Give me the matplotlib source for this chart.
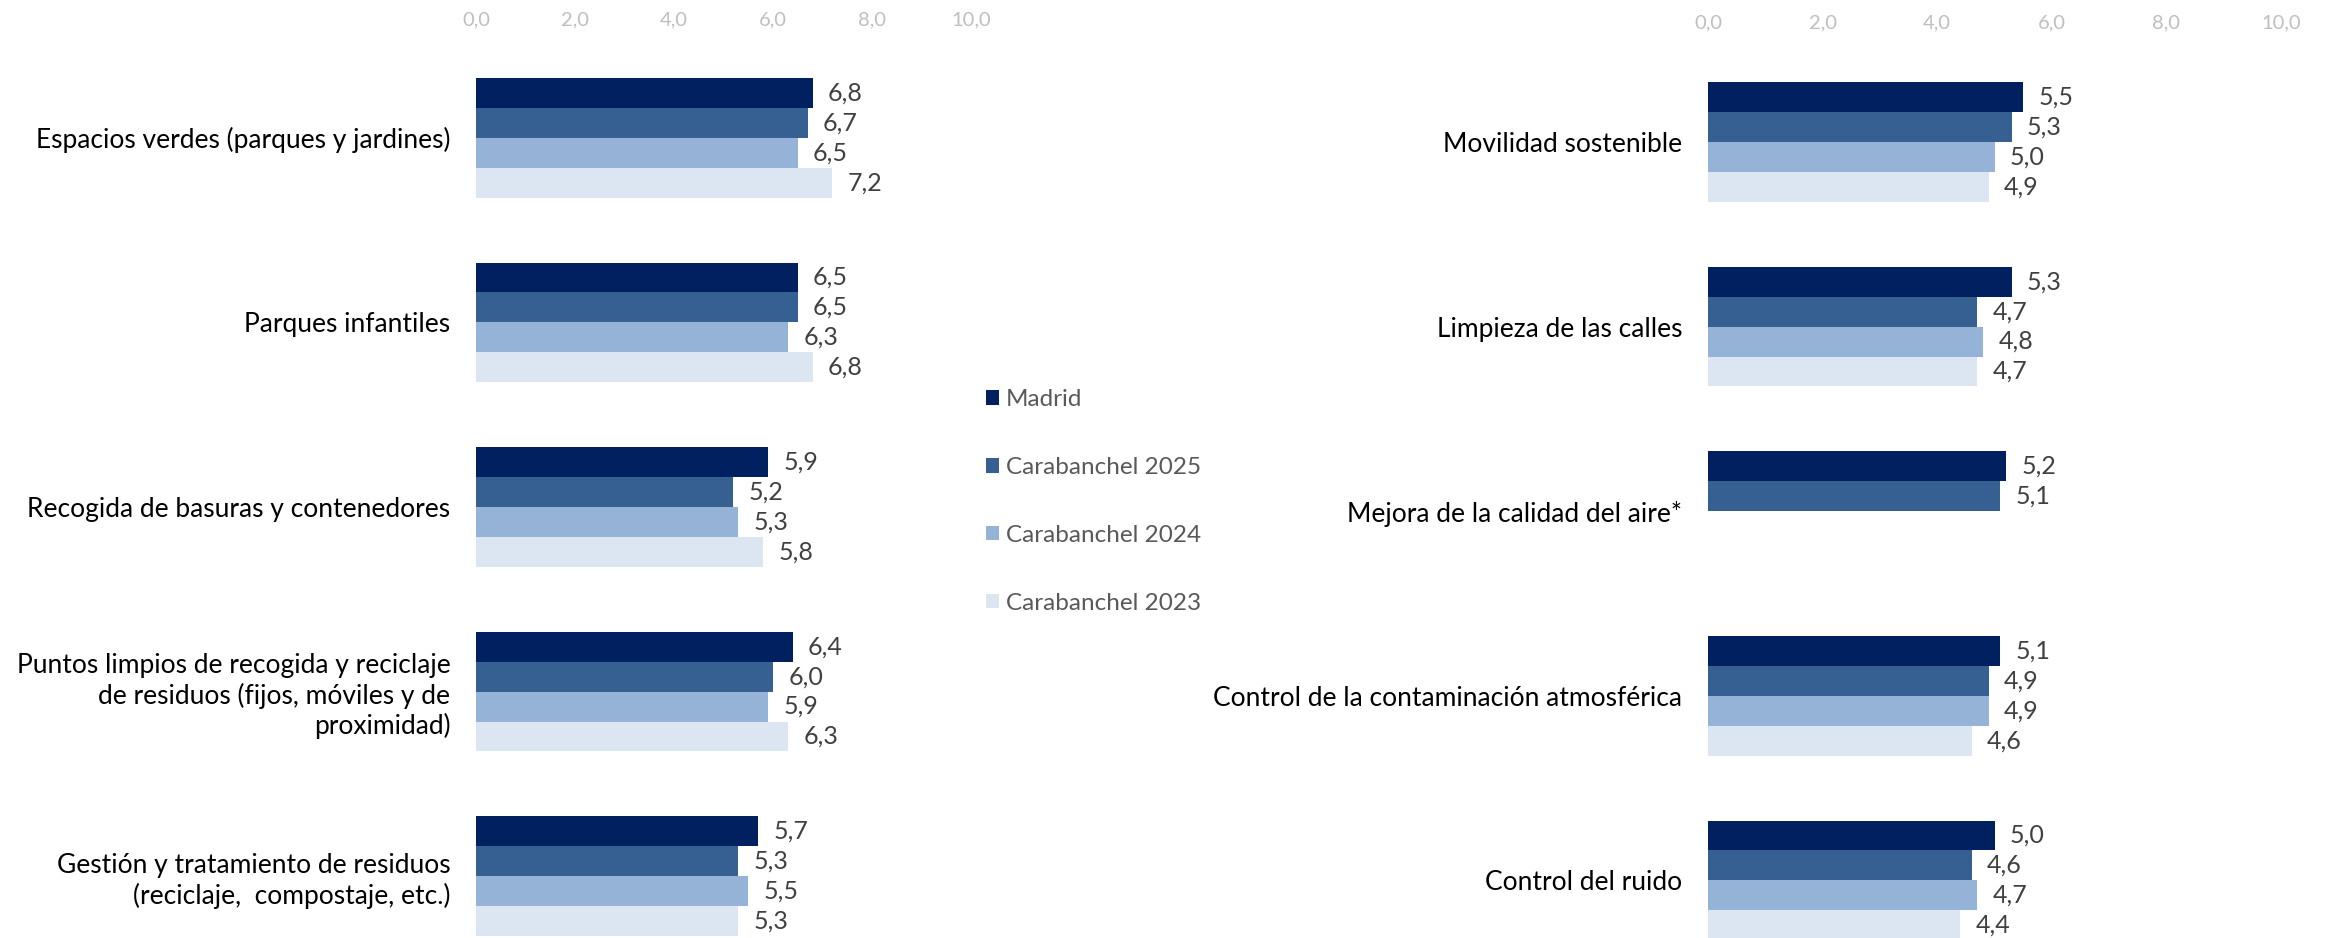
import numpy as np
import matplotlib
matplotlib.use("Agg")
import matplotlib.pyplot as plt

plt.rcParams['font.family'] = ['Lato', 'DejaVu Sans']

series = ["Madrid", "Carabanchel 2025", "Carabanchel 2024", "Carabanchel 2023"]
colors = ["#002060", "#366092", "#95B3D7", "#DCE6F2"]

left_cats = [
    "Espacios verdes (parques y jardines)",
    "Parques infantiles",
    "Recogida de basuras y contenedores",
    "Puntos limpios de recogida y reciclaje\nde residuos (fijos, móviles y de\nproximidad)",
    "Gestión y tratamiento de residuos\n(reciclaje,  compostaje, etc.)",
]
left_madrid = [6.8, 6.5, 5.9, 6.4, 5.7]
left_c2025 = [6.7, 6.5, 5.2, 6.0, 5.3]
left_c2024 = [6.5, 6.3, 5.3, 5.9, 5.5]
left_c2023 = [7.2, 6.8, 5.8, 6.3, 5.3]

right_cats = [
    "Movilidad sostenible",
    "Limpieza de las calles",
    "Mejora de la calidad del aire*",
    "Control de la contaminación atmosférica",
    "Control del ruido",
]
right_madrid = [5.5, 5.3, 5.2, 5.1, 5.0]
right_c2025 = [5.3, 4.7, 5.1, 4.9, 4.6]
right_c2024 = [5.0, 4.8, np.nan, 4.9, 4.7]
right_c2023 = [4.9, 4.7, np.nan, 4.6, 4.4]

xticks = [0, 2, 4, 6, 8, 10]

W, H = 2331, 938
fig = plt.figure(figsize=(W / 100, H / 100), dpi=100)


def fmt(v):
    return "" if np.isnan(v) else f"{v:.1f}".replace(".", ",")


def panel(x0, x1, c0, cats, data, tpad):
    step = 184.6
    top = c0 - 0.5 * step
    bot = c0 + 4.5 * step
    ax = fig.add_axes([x0 / W, 1 - bot / H, (x1 - x0) / W, (bot - top) / H])
    h = 0.162
    y = np.arange(len(cats))
    handles = []
    for j, (vals, col, name) in enumerate(zip(data, colors, series)):
        vals = np.array(vals, dtype=float)
        b = ax.barh(y - 1.5 * h + j * h, vals, height=h, color=col, label=name,
                    linewidth=0)
        ax.bar_label(b, labels=[fmt(v) for v in vals], padding=11,
                     fontsize=18, color="#404040")
        handles.append(b)
    ax.set_xlim(0, 10)
    ax.set_ylim(4.5, -0.5)
    ax.set_yticks(y)
    ax.set_yticklabels(cats, fontsize=19, color="#000000", linespacing=1.21)
    ax.set_xticks(xticks)
    ax.set_xticklabels([f"{t:.1f}".replace(".", ",") for t in xticks],
                       fontsize=14.5, color="#BFBFBF")
    ax.xaxis.tick_top()
    ax.tick_params(axis="x", length=0, pad=tpad)
    ax.tick_params(axis="y", length=0, pad=18.5)
    for s in ax.spines.values():
        s.set_visible(False)
    ax.patch.set_alpha(0)
    return ax, handles


axl, handles = panel(476, 971, 137.8, left_cats,
                     [left_madrid, left_c2025, left_c2024, left_c2023], 12)
axr, _ = panel(1708, 2281, 142.0, right_cats,
               [right_madrid, right_c2025, right_c2024, right_c2023], 13)

leg = fig.legend(handles=handles, labels=series, loc="upper left",
                 bbox_to_anchor=(986 / W, 1 - 389 / H), frameon=False,
                 fontsize=17.5, labelcolor="#595959", handlelength=0.54,
                 handleheight=0.54, handletextpad=0.28, labelspacing=1.93,
                 borderpad=0, borderaxespad=0)

fig.savefig("out.png", dpi=100)
